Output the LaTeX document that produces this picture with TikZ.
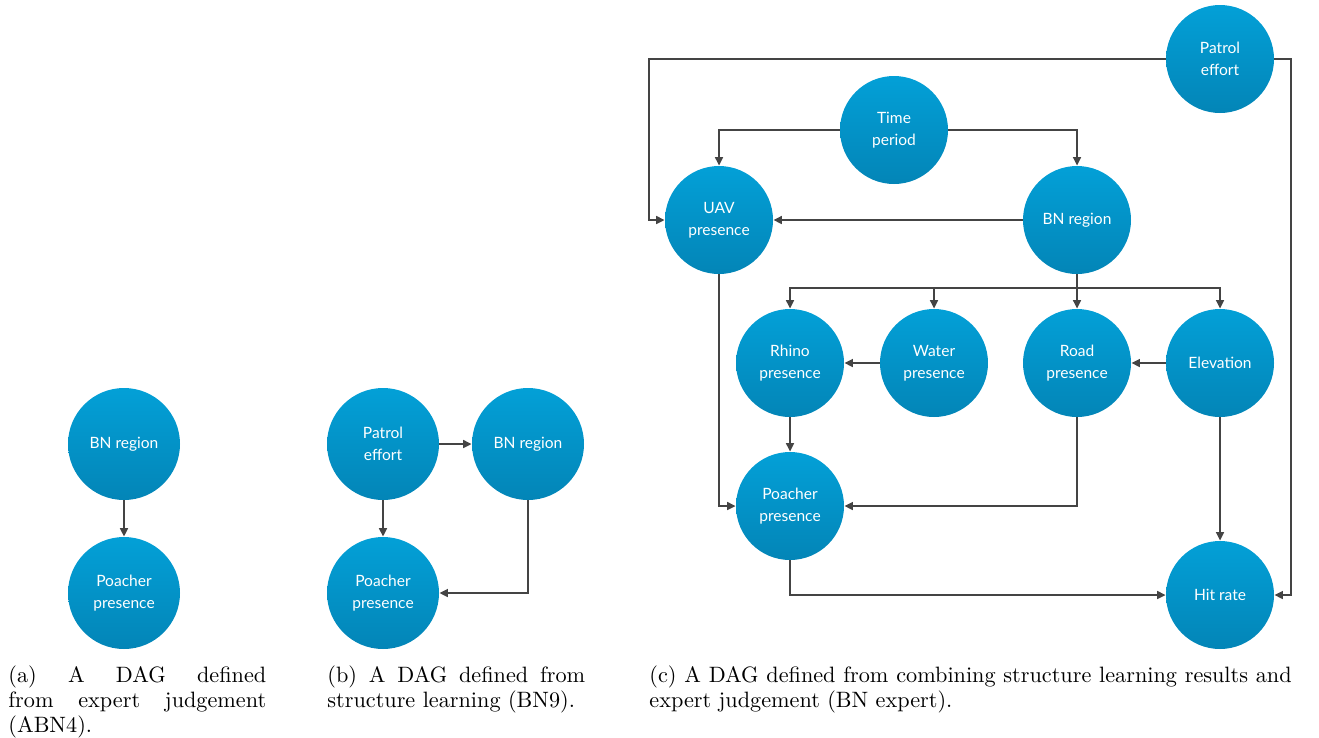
\documentclass[tikz,border=0pt]{standalone}
\usepackage{fontspec}
\newfontfamily\dagfont{Lato}
\usetikzlibrary{arrows.meta}

\definecolor{dagtop}{HTML}{03A0D7}
\definecolor{dagbot}{HTML}{0385B7}
\definecolor{linegray}{HTML}{444444}

\tikzset{
	dag/.style={circle, inner sep=0pt, minimum size=50.4pt, top color=dagtop, bottom color=dagbot, text=white, align=center, font=\dagfont\fontsize{7}{9.9}\selectfont},
	dagc/.style={dag, minimum size=48.6pt},
	link/.style={-{Triangle[length=3.8pt,width=3.6pt]}, draw=linegray, line width=0.65pt},
	subcap/.style={anchor=north west, inner sep=0pt, text width=116pt, align=justify, font=\fontsize{10}{11.4}\selectfont}
}

\begin{document}
\begin{tikzpicture}[x=0.45pt, y=-0.45pt]
	\useasboundingbox (0,0) rectangle (1319,737);

	\node[dag] (bna) at (124,444) {BN region};
	\node[dag] (ppa) at (124,593) {Poacher\\presence};
	\draw[link] (bna) -- (ppa);

	\node[dag] (peb) at (383,444) {Patrol\\effort};
	\node[dag] (bnb) at (528,444) {BN region};
	\node[dag] (ppb) at (383,593) {Poacher\\presence};
	\draw[link] (peb) -- (bnb);
	\draw[link] (peb) -- (ppb);
	\draw[link] (bnb.south) |- (ppb.east);

	\node[dagc] (pec) at (1220,59) {Patrol\\effort};
	\node[dagc] (tp) at (894,130) {Time\\period};
	\node[dagc] (uav) at (719,220) {UAV\\presence};
	\node[dagc] (bnc) at (1077,220) {BN region};
	\node[dagc] (rhino) at (790,363) {Rhino\\presence};
	\node[dagc] (water) at (934,363) {Water\\presence};
	\node[dagc] (road) at (1077,363) {Road\\presence};
	\node[dagc] (elev) at (1220,363) {Elevation};
	\node[dagc] (ppc) at (790,506) {Poacher\\presence};
	\node[dagc] (hit) at (1220,595) {Hit rate};

	\coordinate (lft) at (649,59);
	\coordinate (rgt) at (1291,59);
	\coordinate (bar) at (1077,288);

	\draw[link] (pec.west) -- (lft) |- (uav.west);
	\draw[link] (pec.east) -- (rgt) |- (hit.east);
	\draw[link] (tp.west) -| (uav.north);
	\draw[link] (tp.east) -| (bnc.north);
	\draw[link] (bnc) -- (uav);
	\draw[draw=linegray, line width=0.65pt] (bnc.south) -- (bar);
	\foreach \n in {rhino,water,road,elev}
		\draw[link] (bar) -| (\n.north);
	\draw[link] (water) -- (rhino);
	\draw[link] (elev) -- (road);
	\draw[link] (rhino) -- (ppc);
	\draw[link] (uav.south) |- (ppc.west);
	\draw[link] (road.south) |- (ppc.east);
	\draw[link] (elev) -- (hit);
	\draw[link] (ppc.south) |- (hit.west);

	\node[subcap] (capa) at (8,665) {(a) A DAG defined\linebreak from expert judgement\linebreak (ABN4).};
	\node[subcap] (capb) at (327,665) {(b) A DAG defined from\linebreak structure learning (BN9).};
	\node[subcap, text width=289pt] (capc) at (649,665) {(c) A DAG defined from combining structure learning results and\linebreak expert judgement (BN expert).};
\end{tikzpicture}
\end{document}
